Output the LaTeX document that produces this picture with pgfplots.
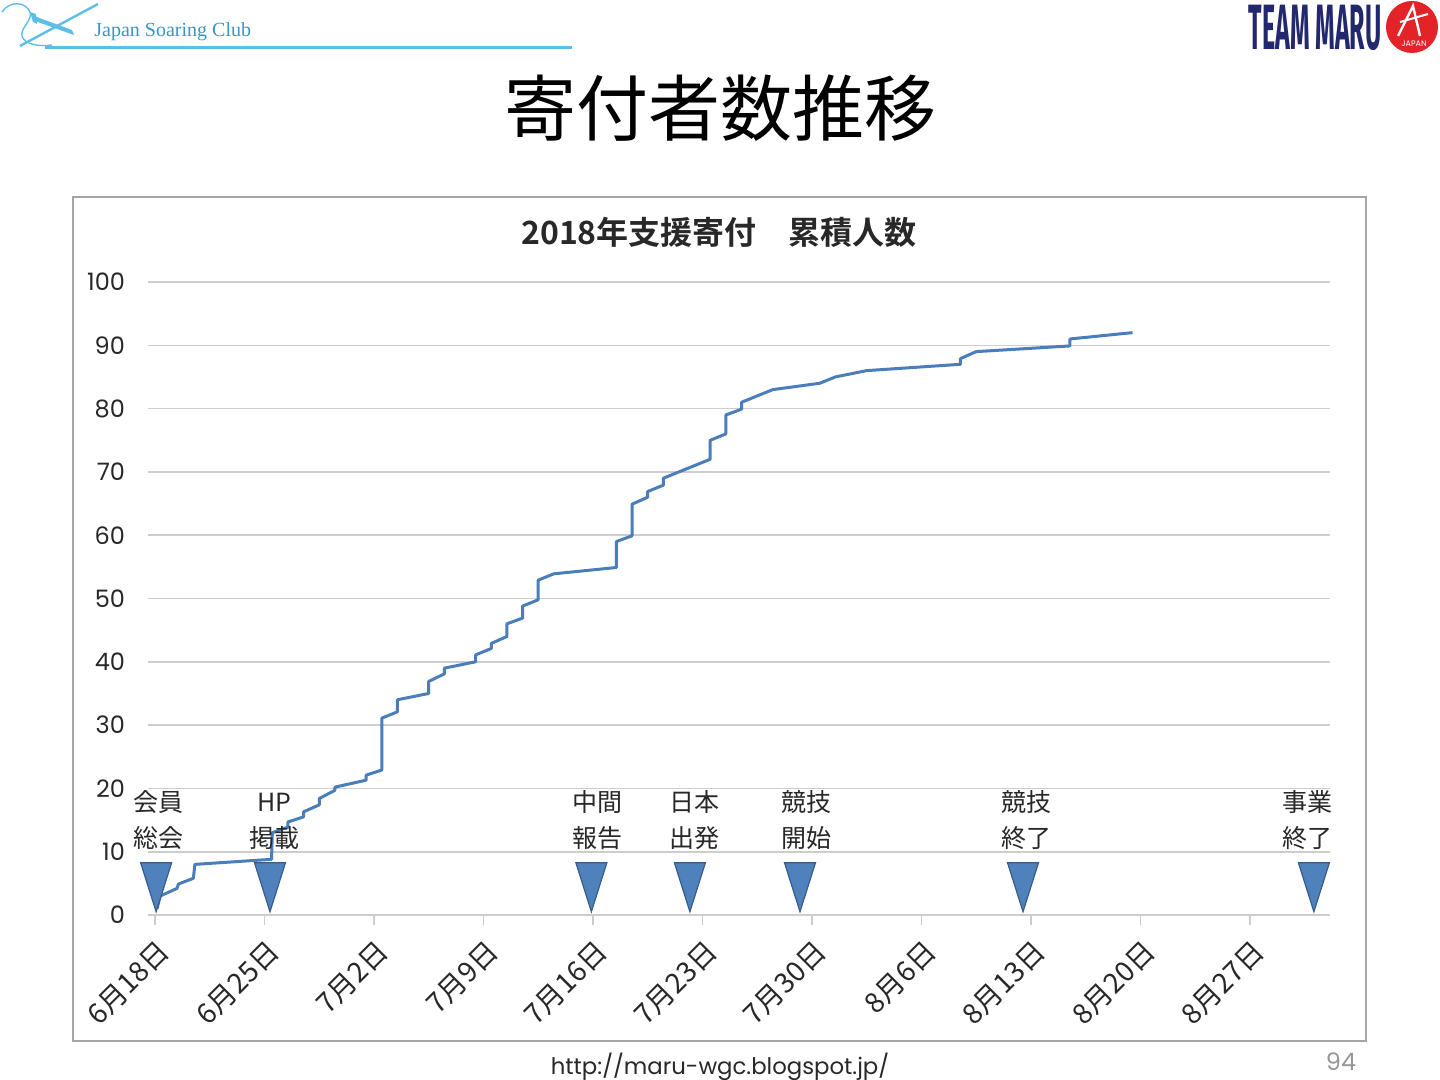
\documentclass[border=0pt]{standalone}
\usepackage{fontspec}
\usepackage{pgfplots}
\pgfplotsset{compat=1.18}
\setmainfont{Poppins}
\newfontfamily\jp{Noto Sans CJK JP}[BoldFont={Noto Sans CJK JP Bold}]
\newfontfamily\logoserif{Liberation Serif}
\newfontfamily\fira{Fira Sans}
\definecolor{linecol}{RGB}{74,126,187}
\definecolor{trifill}{RGB}{79,129,189}
\definecolor{tridraw}{RGB}{56,93,138}
\definecolor{gridcol}{RGB}{205,205,205}
\definecolor{txt}{RGB}{40,40,40}
\definecolor{lb}{RGB}{95,190,230}
\definecolor{lbt}{RGB}{55,150,200}
\definecolor{navy}{RGB}{35,40,110}
\definecolor{maru}{RGB}{228,35,40}
\pgfdeclareplotmark{dtri}{%
  \pgfpathmoveto{\pgfqpoint{-7.75pt}{0pt}}%
  \pgfpathlineto{\pgfqpoint{7.75pt}{0pt}}%
  \pgfpathlineto{\pgfqpoint{0pt}{-24.5pt}}%
  \pgfpathclose
  \pgfusepathqfillstroke}
\begin{document}
\begin{tikzpicture}
\path[use as bounding box, fill=white] (0,0) rectangle (720pt,-540pt);
\begin{scope}[x=0.5pt,y=-0.5pt]
  % top-left logo
  \draw[lb, line width=0.7pt] (2,12) .. controls (10,0) and (26,2) .. (30,12) .. controls (33,20) and (20,28) .. (22,36) .. controls (24,44) and (38,47) .. (52,45);
  \draw[lb, line width=1.2pt] (20,46) -- (98,4);
  \fill[lb] (34,16) -- (72,30) -- (74,35) -- (35,21) -- cycle;
  \fill[lb] (30,12) -- (36,14) -- (37,24) -- (33,22) -- cycle;
  \node[anchor=west, text=lbt, font=\logoserif\fontsize{10}{10}\selectfont, inner sep=0] at (94,32) {Japan Soaring Club};
  \draw[lb, line width=1.5pt] (45,48) -- (572,48);
  % top-right logo
  \node[text=navy, inner sep=0] at (1315,28) {\scalebox{0.39}[1]{\fira\bfseries\fontsize{32}{32}\selectfont TEAM MARU}};
  \fill[maru] (1412,27) circle[radius=13pt];
  \draw[white, line width=1.2pt] (1398,36) -- (1413,6) -- (1420,36);
  \draw[white, line width=1pt] (1400,22) -- (1428,14);
  \node[white, inner sep=0, font=\fontsize{4}{4}\selectfont] at (1414,44) {JAPAN};
  % main title
  \node[inner sep=0, font=\jp\fontsize{36}{36}\selectfont] at (720,108) {寄付者数推移};
  % chart frame
  \draw[color={rgb,255:red,165;green,165;blue,165}, line width=1pt] (73,197) rectangle (1366,1041);
  % chart title
  \node[inner sep=0, text=txt, font=\jp\bfseries\fontsize{16}{16}\selectfont] at (719,232) {2018年支援寄付　累積人数};
  % footer
  \node[inner sep=0, text=txt, font=\fontsize{11.4}{11.4}\selectfont] at (720,1067) {http://maru-wgc.blogspot.jp/};
  \node[inner sep=0, text={rgb,255:red,150;green,150;blue,150}, font=\fontsize{12}{12}\selectfont] at (1341,1062) {94};
\end{scope}
\begin{axis}[
  at={(74pt,-457.5pt)}, anchor=south west,
  scale only axis, width=591pt, height=316.5pt,
  xmin=-0.45, xmax=75.13, ymin=0, ymax=100,
  xtick={0,7,...,70},
  xticklabels={6月18日,6月25日,7月2日,7月9日,7月16日,7月23日,7月30日,8月6日,8月13日,8月20日,8月27日},
  ytick={0,10,...,100},
  ymajorgrids, grid style={draw=gridcol, line width=0.8pt},
  axis line style={draw=none},
  tick align=outside, tick pos=left,
  major tick length=5pt,
  xtick style={draw=gridcol, line width=0.8pt},
  ytick style={draw=none},
  xticklabel style={xshift=0.5pt, yshift=-5pt, rotate=45, anchor=north east, text=txt, font=\jp\fontsize{14}{14}\selectfont, inner sep=1pt},
  yticklabel style={text=txt, font=\fontsize{12}{12}\selectfont, xshift=-3pt},
  /pgf/number format/assume math mode=true,
  clip=false,
]
\addplot[only marks, mark=dtri, mark options={fill=trifill, draw=tridraw, line width=0.6pt}] coordinates {
(0.07,8.26) (7.35,8.26) (27.9,8.26) (34.2,8.26) (41.24,8.26) (55.5,8.26) (74.1,8.26)};
\addplot[linecol, line width=1.5pt, line join=round, mark=none] coordinates {
(0.13,1) (0.33,3) (1.4,4.2) (1.5,4.9) (2.45,5.8) (2.55,8) (7.45,8.8) (7.5,13)
(8.5,13.9) (8.5,14.7) (9.5,15.5) (9.5,16.3) (10.5,17.4) (10.5,18.4) (11.5,19.7) (11.5,20.2)
(13.5,21.3) (13.5,22.1) (14.5,22.9) (14.5,31.1) (15.5,32.1) (15.5,34) (17.5,35) (17.5,36.9)
(18.5,38.1) (18.5,39) (20.5,40) (20.5,41.1) (21.5,42.1) (21.5,42.9) (22.5,44) (22.5,46)
(23.5,46.9) (23.5,48.8) (24.5,49.8) (24.5,52.9) (25.5,53.9) (29.5,54.9) (29.5,59) (30.5,59.9)
(30.5,64.9) (31.5,66) (31.5,66.9) (32.5,67.9) (32.5,69) (35.5,72) (35.5,75) (36.5,76)
(36.5,79) (37.5,79.9) (37.5,81) (39.5,83) (42.5,84) (43.5,85) (45.5,86) (51.5,87)
(51.5,87.9) (52.5,89) (58.5,89.9) (58.5,91) (62.5,92)};
\begin{scope}[every node/.style={inner sep=0, text=txt, font=\jp\fontsize{12.5}{12.5}\selectfont}]
\node at (axis cs:0.19,17.85) {会員}; \node at (axis cs:0.19,12.16) {総会};
\node at (axis cs:7.61,17.85) {HP}; \node at (axis cs:7.61,12.16) {掲載};
\node at (axis cs:28.26,17.85) {中間}; \node at (axis cs:28.26,12.16) {報告};
\node at (axis cs:34.52,17.85) {日本}; \node at (axis cs:34.52,12.16) {出発};
\node at (axis cs:41.68,17.85) {競技}; \node at (axis cs:41.68,12.16) {開始};
\node at (axis cs:55.74,17.85) {競技}; \node at (axis cs:55.74,12.16) {終了};
\node at (axis cs:73.71,17.85) {事業}; \node at (axis cs:73.71,12.16) {終了};
\end{scope}
\end{axis}
\end{tikzpicture}
\end{document}
